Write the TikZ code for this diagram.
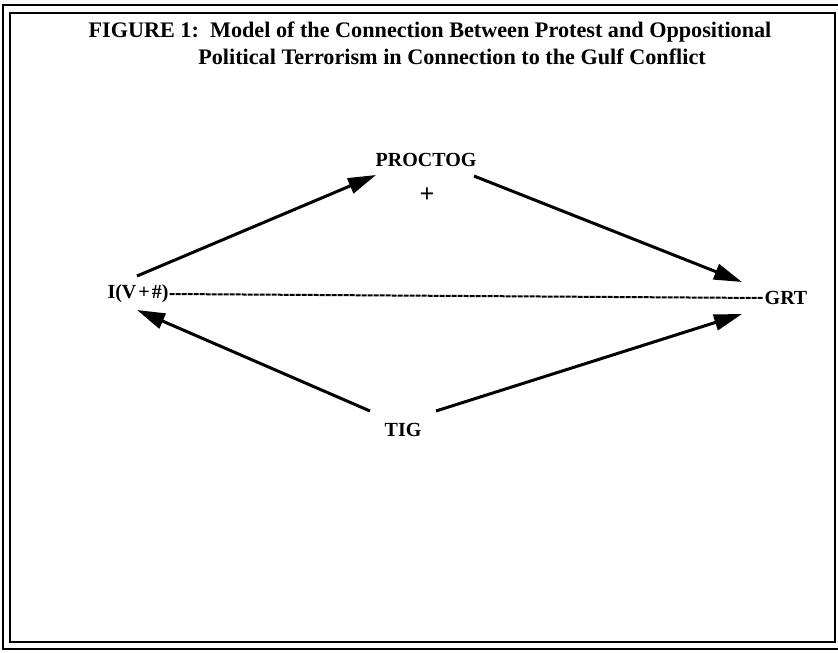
\documentclass[tikz,border=0pt]{standalone}
\usepackage{fontspec}
\setmainfont{Liberation Serif}
\usetikzlibrary{arrows.meta,positioning}

\tikzset{
  lbl/.style={font=\bfseries\fontsize{20}{22}\selectfont, inner sep=1pt},
  ttl/.style={font=\bfseries\fontsize{22.2}{25}\selectfont, inner sep=0pt},
  link/.style={line width=3pt, -{Triangle[length=28pt,width=16pt]}},
}

\begin{document}
\begin{tikzpicture}[x=1pt, y=-1pt]
		\useasboundingbox (0,0) rectangle (838,653);
		% frame
		\draw[line width=2pt] (3,5) rectangle (844,649);
		\draw[line width=1.6pt] (10,13) rectangle (835,642);
		% title
		\node[ttl] (title1) at (430,32) {FIGURE 1:\ \ Model of the Connection Between Protest and Oppositional};
		\node[ttl] (title2) at (452,57) {Political Terrorism in Connection to the Gulf Conflict};
		% variables
		\node[lbl] (proctog) at (426,160) {PROCTOG};
		\node[lbl, font=\bfseries\fontsize{26}{26}\selectfont] (plus) at (427,195) {+};
		\node[lbl] (ivh) at (138,294) {I(V\kern2pt+\kern2pt\#)};
		\node[lbl] (grt) at (786,298) {GRT};
		\node[lbl] (tig) at (403,430) {TIG};
		% arrow ends
		\coordinate (ivh-up) at (137,276);
		\coordinate (ivh-dn) at (137,310);
		\coordinate (pr-in) at (376,175);
		\coordinate (pr-out) at (474,176);
		\coordinate (grt-up) at (742,282);
		\coordinate (grt-dn) at (742,314);
		\coordinate (tig-l) at (370,411);
		\coordinate (tig-r) at (436,411);
		\draw[link] (ivh-up)--(pr-in);
		\draw[link] (pr-out)--(grt-up);
		\draw[link] (tig-l)--(ivh-dn);
		\draw[link] (tig-r)--(grt-dn);
		\draw[line width=2pt, dash pattern=on 5pt off 1pt] (ivh.east)--(grt.west);
	\end{tikzpicture}
\end{document}
